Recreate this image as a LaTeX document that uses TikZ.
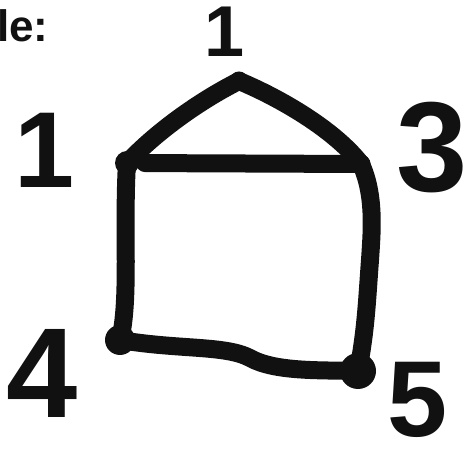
\documentclass[tikz,border=0pt]{standalone}
\usepackage{fontspec}
\setmainfont{Liberation Sans}
\begin{document}
\begin{tikzpicture}[x=0.5pt,y=-0.5pt,
  ink/.style={draw=inkc,line width=9pt,line cap=round,line join=round},
  corner/.style={circle,fill=inkc,inner sep=0pt,minimum size=9.5pt},
  blob/.style={circle,fill=inkc,inner sep=0pt,minimum size=#1},
  lbl/.style={text=inkc,inner sep=0pt,font=\bfseries}]
\definecolor{inkc}{HTML}{111111}
\useasboundingbox[fill=white] (0,0) rectangle (471,458);
% vertices
\node[corner] (v1) at (239,81) {};
\node[blob=12pt] (v2) at (127,163) {};
\node[corner] (v3) at (361,164) {};
\node[blob=15pt] (v4) at (120,340) {};
\node[blob=18pt] (v5) at (358,371) {};
% edges
\draw[ink] (v1.center) .. controls (205,98) and (160,128) .. (v2.center);
\draw[ink] (v1.center) .. controls (280,98) and (335,130) .. (v3.center);
\draw[ink,shorten <=9pt] (v2.center) -- (v3.center);
\draw[ink] (v2.center) .. controls (123,230) and (130,300) .. (v4.center);
\draw[ink] (v3.center) .. controls (375,195) and (372,230) .. (370,260) .. controls (367,300) and (366,330) .. (v5.center);
\draw[ink] (v4.center) .. controls (180,350) and (225,345) .. (250,358) .. controls (275,372) and (320,370) .. (v5.center);
% labels
\node[lbl,font=\bfseries\fontsize{36}{38}\selectfont] (l1) at (225,32) {1};
\node[lbl,font=\bfseries\fontsize{54}{56}\selectfont] (l2) at (45,150) {1};
\node[lbl,font=\bfseries\fontsize{64}{66}\selectfont] (l3) at (432,148) {3};
\node[lbl,font=\bfseries\fontsize{64}{66}\selectfont] (l4) at (42,373) {4};
\node[lbl,font=\bfseries\fontsize{54}{56}\selectfont] (l5) at (418,400) {5};
\node[lbl,font=\bfseries\fontsize{22}{24}\selectfont,anchor=base east] (title) at (49,42) {ple:};
\end{tikzpicture}
\end{document}
